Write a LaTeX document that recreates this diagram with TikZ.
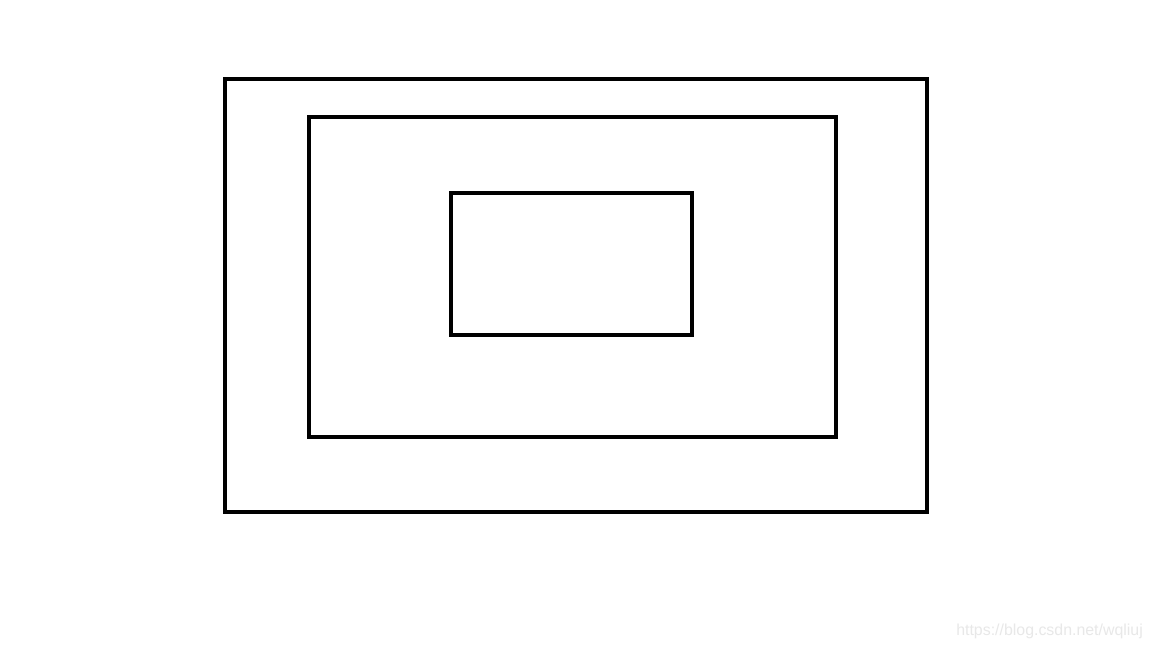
\documentclass[tikz,border=0pt]{standalone}
\usepackage{fontspec}
\setmainfont{Liberation Sans}
\begin{document}
\begin{tikzpicture}[x=1pt,y=-1pt,
  frame/.style={draw=black,line width=4pt}]
\useasboundingbox[fill=white] (0,0) rectangle (1152,648);
\node[frame,minimum width=702pt,minimum height=433pt,inner sep=0pt] (outer) at (576,295.5) {};
\node[frame,minimum width=527pt,minimum height=320pt,inner sep=0pt] (middle) at (572.5,277) {};
\node[frame,minimum width=241pt,minimum height=142pt,inner sep=0pt] (inner) at (571,264) {};
\node[anchor=east,text=black!9,font=\fontsize{15.9pt}{18pt}\selectfont,inner sep=0pt] (wm) at (1143,631) {https://blog.csdn.net/wqliuj};
\end{tikzpicture}
\end{document}
